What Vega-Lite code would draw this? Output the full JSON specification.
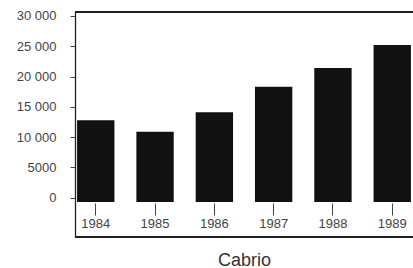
{
  "$schema": "https://vega.github.io/schema/vega-lite/v6.json",
  "autosize": "none",
  "padding": {"left": 75, "top": 12, "right": 0, "bottom": 31},
  "width": 338,
  "height": 225,
  "background": "white",
  "config": {
    "font": "Liberation Sans",
    "view": {"stroke": null},
    "axis": {"grid": false, "labelFont": "Liberation Sans", "titleFont": "Liberation Sans"},
    "axisY": {
      "title": null,
      "labelFontSize": 13,
      "labelColor": "#444",
      "labelPadding": 14,
      "labelOverlap": false,
      "tickSize": 5,
      "tickColor": "#444",
      "domain": true,
      "domainColor": "#222",
      "domainWidth": 1.3
    }
  },
  "data": {
    "values": [
      {"year": "1984", "units": 12800},
      {"year": "1985", "units": 10900},
      {"year": "1986", "units": 14100},
      {"year": "1987", "units": 18300},
      {"year": "1988", "units": 21400},
      {"year": "1989", "units": 25200}
    ]
  },
  "layer": [
    {
      "mark": {"type": "bar", "color": "#111"},
      "encoding": {
        "x": {
          "field": "year",
          "type": "ordinal",
          "scale": {"paddingInner": 0.37, "paddingOuter": 0.035},
          "axis": {
            "title": "Cabrio",
            "titleFontSize": 18,
            "titleFontWeight": "normal",
            "titleColor": "#333",
            "titleBaseline": "alphabetic",
            "titleY": 62,
            "labelAngle": 0,
            "labelFontSize": 13,
            "labelColor": "#444",
            "labelPadding": 2,
            "tickSize": 12,
            "tickColor": "#444",
            "domain": false,
            "offset": -34
          }
        },
        "y": {
          "field": "units",
          "type": "quantitative",
          "scale": {"domain": [-6490, 30660], "nice": false, "zero": false},
          "axis": {
            "title": null,
            "values": [0, 5000, 10000, 15000, 20000, 25000, 30000],
            "labelExpr": "datum.value >= 10000 ? replace(format(datum.value, ','), ',', ' ') : format(datum.value, 'd')"
          }
        },
        "y2": {"datum": -700}
      }
    },
    {
      "mark": {"type": "rule", "color": "#222", "strokeWidth": 1.3},
      "encoding": {
        "y": {
          "datum": 30660,
          "type": "quantitative",
          "axis": {
            "title": null,
            "values": [0, 5000, 10000, 15000, 20000, 25000, 30000],
            "labelExpr": "datum.value >= 10000 ? replace(format(datum.value, ','), ',', ' ') : format(datum.value, 'd')"
          }
        }
      }
    },
    {
      "mark": {"type": "rule", "color": "#222", "strokeWidth": 1.3},
      "encoding": {
        "y": {
          "datum": -6490,
          "type": "quantitative",
          "axis": {
            "title": null,
            "values": [0, 5000, 10000, 15000, 20000, 25000, 30000],
            "labelExpr": "datum.value >= 10000 ? replace(format(datum.value, ','), ',', ' ') : format(datum.value, 'd')"
          }
        }
      }
    }
  ]
}
